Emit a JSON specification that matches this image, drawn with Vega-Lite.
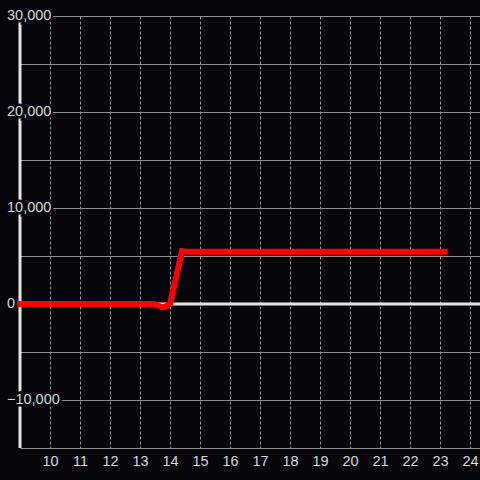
{
  "$schema": "https://vega.github.io/schema/vega-lite/v6.json",
  "autosize": {"type": "none"},
  "padding": {"left": 20, "top": 16, "right": 0, "bottom": 32},
  "width": 460,
  "height": 432,
  "background": "#07060b",
  "config": {"view": {"stroke": null}, "axisX": {"tickCount": 15}},
  "datasets": {
    "series": [
      {"x": 9, "y": 0},
      {"x": 13.45, "y": 0},
      {"x": 13.58, "y": -120},
      {"x": 13.72, "y": -350},
      {"x": 13.86, "y": -250},
      {"x": 14.0, "y": 0},
      {"x": 14.4, "y": 5520},
      {"x": 14.55, "y": 5450},
      {"x": 23.15, "y": 5450}
    ],
    "ylabels": [
      {"v": 30000},
      {"v": 20000},
      {"v": 10000},
      {"v": 0},
      {"v": -10000}
    ],
    "one": [{"k": 1}]
  },
  "layer": [
    {
      "data": {"name": "series"},
      "mark": {"type": "line", "opacity": 0},
      "encoding": {
        "x": {
          "field": "x", "type": "quantitative",
          "scale": {"domain": [9, 24.3333], "nice": false, "zero": false},
          "axis": {
            "title": null, "values": [10,11,12,13,14,15,16,17,18,19,20,21,22,23,24], "tickCount": 15,
            "grid": true, "gridColor": "#9a9a9a", "gridDash": [3, 2], "gridWidth": 1,
            "domain": false, "ticks": false,
            "labelColor": "#d8d8d8", "labelFont": "Liberation Sans", "labelFontSize": 14.5,
            "labelPadding": 6, "labelFlush": false, "labelOverlap": false
          }
        },
        "y": {
          "field": "y", "type": "quantitative",
          "scale": {"domain": [-15000, 30000], "nice": false, "zero": false},
          "axis": {
            "title": null, "values": [-15000,-10000,-5000,0,5000,10000,15000,20000,25000,30000],
            "grid": true, "gridColor": "#8e8e8e", "gridWidth": 1,
            "domain": false, "ticks": false, "labels": false
          }
        }
      }
    },
    {
      "data": {"name": "one"},
      "mark": {"type": "rule", "color": "#e6e6e6", "strokeWidth": 3},
      "encoding": {"y": {"datum": 0, "type": "quantitative"}}
    },
    {
      "data": {"name": "one"},
      "mark": {"type": "rule", "color": "#e6e6e6", "strokeWidth": 3},
      "encoding": {"x": {"datum": 9, "type": "quantitative"}}
    },
    {
      "data": {"name": "ylabels"},
      "mark": {"type": "text", "align": "left", "baseline": "middle", "dx": -13,
               "font": "Liberation Sans", "fontSize": 14.5,
               "fill": "#07060b", "stroke": "#07060b", "strokeWidth": 5},
      "encoding": {
        "x": {"datum": 9, "type": "quantitative"},
        "y": {"field": "v", "type": "quantitative"},
        "text": {"field": "v", "type": "quantitative", "format": ","}
      }
    },
    {
      "data": {"name": "ylabels"},
      "mark": {"type": "text", "align": "left", "baseline": "middle", "dx": -13,
               "font": "Liberation Sans", "fontSize": 14.5, "fill": "#d8d8d8"},
      "encoding": {
        "x": {"datum": 9, "type": "quantitative"},
        "y": {"field": "v", "type": "quantitative"},
        "text": {"field": "v", "type": "quantitative", "format": ","}
      }
    },
    {
      "data": {"name": "series"},
      "mark": {"type": "line", "color": "#ff0000", "strokeWidth": 6, "strokeCap": "square", "strokeJoin": "miter"},
      "encoding": {
        "x": {"field": "x", "type": "quantitative"},
        "y": {"field": "y", "type": "quantitative"}
      }
    }
  ]
}
